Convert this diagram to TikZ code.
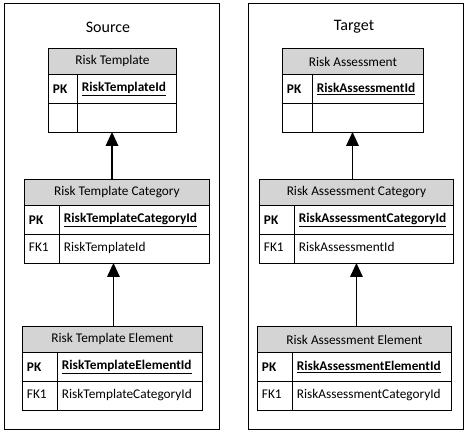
\documentclass[tikz,border=0pt]{standalone}
\usepackage{fontspec}
\setmainfont{Carlito}
\definecolor{hdrgray}{RGB}{212,212,212}
\tikzset{
  every node/.style={font=\fontsize{13.3}{15}\selectfont},
  hdr/.style={draw=black, line width=0.9pt, fill=hdrgray, minimum height=26pt, inner sep=0pt, anchor=north west},
  cell/.style={draw=black, line width=0.9pt, fill=white, minimum height=29pt, inner xsep=4.5pt, inner ysep=0pt, anchor=north west, align=left},
  frame/.style={draw=black, line width=0.9pt, inner sep=0pt, anchor=north west},
  ttl/.style={font=\fontsize{16}{18}\selectfont},
  relline/.style={draw=black, line width=1.8pt},
  relhead/.style={fill=black},
}
% #1 name, #2 left, #3 right, #4 top, #5 divider, #6 title, #7 pk value, #8 fk label, #9 fk value
\newcommand\ertable[9]{%
  \pgfmathsetmacro\wT{#3-#2}%
  \pgfmathsetmacro\tA{#5-#2-9}%
  \pgfmathsetmacro\tB{#3-#5-9}%
  \pgfmathsetmacro\yA{#4+26}%
  \pgfmathsetmacro\yB{#4+55}%
  \pgfmathsetmacro\yC{#4+84}%
  \pgfmathsetmacro\xC{(#2+#3)/2}%
  \node[hdr, minimum width=\wT pt] (#1) at (#2,#4) {#6};
  \node[cell, text width=\tA pt] (#1pk) at (#2,\yA) {\textbf{PK}};
  \node[cell, text width=\tB pt] (#1pkv) at (#5,\yA) {\textbf{\underline{#7}}};
  \node[cell, text width=\tA pt] (#1fk) at (#2,\yB) {#8\strut};
  \node[cell, text width=\tB pt] (#1fkv) at (#5,\yB) {#9\strut};
  \coordinate (#1bot) at (\xC,\yC);
}
% #1 from, #2 tip
\newcommand\relarrow[2]{%
  \draw[relline] (#1) -- ([yshift=-12pt]#2);
  \fill[relhead] (#2) -- ++(-6.5,14) -- ++(13,0) -- cycle;
}
\begin{document}
\begin{tikzpicture}[x=1pt,y=-1pt]
\useasboundingbox (0,0) rectangle (467,433);
% containers
\node[frame, minimum width=215pt, minimum height=426pt] (src) at (4,3) {};
\node[frame, minimum width=215pt, minimum height=426pt] (tgt) at (248,3) {};
\node[ttl] (srcttl) at (108,27) {Source};
\node[ttl] (tgtttl) at (354,27) {Target};
% source tables
\ertable{sT}{48}{176}{48}{77}{Risk Template}{RiskTemplateId}{}{}
\ertable{sC}{24}{209}{179}{59}{Risk Template Category}{RiskTemplateCategoryId}{FK1}{RiskTemplateId}
\ertable{sE}{22}{202}{326}{57}{Risk Template Element}{RiskTemplateElementId}{FK1}{RiskTemplateCategoryId}
% target tables
\ertable{tT}{282}{423}{48}{312}{Risk Assessment}{RiskAssessmentId}{}{}
\ertable{tC}{259}{453}{179}{294}{Risk Assessment Category}{RiskAssessmentCategoryId}{FK1}{RiskAssessmentId}
\ertable{tE}{257}{451}{326}{292}{Risk Assessment Element}{RiskAssessmentElementId}{FK1}{RiskAssessmentCategoryId}
% relationships
\coordinate (a2s) at ([xshift=1pt]sE.north);
\coordinate (a2t) at ([xshift=2pt]tE.north);
\relarrow{sC.north -| sTbot}{sTbot}
\relarrow{a2s}{a2s |- sCbot}
\relarrow{tC.north -| tTbot}{tTbot}
\relarrow{a2t}{a2t |- tCbot}
\end{tikzpicture}
\end{document}
